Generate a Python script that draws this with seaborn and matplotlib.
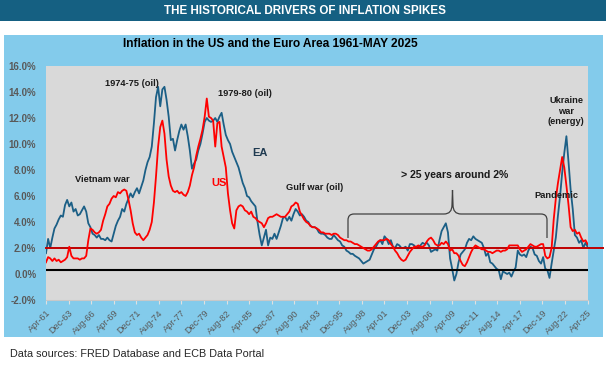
import numpy as np
import pandas as pd
import seaborn as sns
import matplotlib.pyplot as plt
from matplotlib.patches import Rectangle, PathPatch
from matplotlib.path import Path
from matplotlib.transforms import Affine2D

plt.rcParams['font.family'] = ['Liberation Sans', 'DejaVu Sans']

# quarterly readings, Apr-1961 .. Apr-2025, y/y inflation in %
us_cpi = [
    0.9, 1.3, 1.2,
    1.0, 1.2, 1.0, 1.1,   # 1962
    0.9, 1.0, 1.1, 1.3,
    2.1, 1.4, 1.2, 1.2,   # 1964
    1.2, 1.1, 1.2, 1.2,
    1.4, 2.6, 3.5, 3.4,   # 1966
    3.2, 3.1, 3.2, 3.4,
    4.1, 4.6, 5.2, 5.4,   # 1968
    5.8, 6.0, 5.9, 6.3,
    6.2, 6.4, 6.5, 6.4,   # 1970
    5.7, 4.9, 3.9, 3.2,
    3.0, 3.1, 2.8, 2.6,   # 1972
    2.8, 3.0, 3.4, 4.0,
    5.5, 7.5, 9.8, 11.3,  # 1974
    11.8, 10.8, 8.8, 7.5,
    6.8, 6.4, 6.3, 6.4,   # 1976
    6.2, 6.3, 6.1, 6.0,
    6.3, 6.8, 7.6, 8.2,   # 1978
    9.1, 9.8, 10.4, 11.1,
    12.1, 13.5, 12.1, 12.0,  # 1980
    11.8, 9.8, 11.6, 11.7,
    9.8, 9.0, 8.2, 6.2,   # 1982
    4.9, 3.9, 3.5, 4.9,
    5.2, 5.3, 5.2, 4.9,   # 1984
    4.8, 4.6, 4.8, 4.4,
    4.3, 4.1, 4.0, 3.9,   # 1986
    3.6, 3.9, 4.3, 4.4,
    4.4, 4.5, 4.6, 4.5,   # 1988
    4.4, 4.4, 4.4, 4.6,
    4.8, 5.2, 5.3, 5.5,   # 1990
    5.4, 4.8, 4.5, 4.2,
    4.0, 3.9, 3.7, 3.6,   # 1992
    3.6, 3.5, 3.4, 3.2,
    3.2, 3.1, 3.1, 3.1,   # 1994
    3.0, 3.1, 3.1, 3.0,
    2.8, 2.7, 2.6, 2.6,   # 1996
    2.5, 2.5, 2.4, 2.3,
    2.3, 2.2, 2.1, 2.0,   # 1998
    1.9, 1.8, 1.8, 1.9,
    2.1, 2.3, 2.5, 2.6,   # 2000
    2.6, 2.6, 2.7, 2.6,
    2.3, 2.1, 1.8, 1.6,   # 2002
    1.3, 1.1, 1.0, 1.1,
    1.4, 1.7, 1.9, 2.1,   # 2004
    2.1, 2.2, 2.1, 2.1,
    2.2, 2.5, 2.7, 2.8,   # 2006
    2.6, 2.3, 2.2, 2.2,
    2.4, 2.3, 2.5, 2.3,   # 2008
    1.8, 1.9, 1.6, 1.6,
    1.4, 1.0, 0.7, 0.6,   # 2010
    0.9, 1.3, 1.7, 2.0,
    2.2, 2.1, 2.0, 1.9,   # 2012
    1.9, 1.8, 1.7, 1.7,
    1.6, 1.7, 1.8, 1.8,   # 2014
    1.7, 1.8, 1.8, 1.9,
    2.2, 2.2, 2.2, 2.2,   # 2016
    2.2, 1.9, 1.7, 1.8,
    1.9, 2.1, 2.3, 2.2,   # 2018
    2.1, 2.1, 2.2, 2.3,
    2.3, 1.4, 1.2, 1.3,   # 2020
    2.0, 4.2, 5.8, 7.0,
    8.0, 9.0, 8.2, 6.8,   # 2022
    5.3, 3.6, 3.3, 3.4,
    3.1, 3.2, 2.8, 2.5,   # 2024
    2.6, 2.3,
]

ea_hicp = [
    1.6, 2.7, 2.0,
    2.8, 3.5, 3.8, 4.2,   # 1962
    4.5, 4.4, 5.3, 5.7,
    5.2, 5.5, 4.8, 5.0,   # 1964
    4.5, 4.6, 4.9, 5.2,
    4.8, 3.9, 3.6, 3.1,   # 1966
    3.0, 2.8, 3.0, 2.7,
    2.7, 2.6, 2.8, 2.6,   # 1968
    2.5, 3.1, 3.7, 4.1,
    4.4, 5.0, 4.8, 5.4,   # 1970
    5.8, 6.2, 5.9, 6.3,
    6.6, 6.2, 6.7, 7.2,   # 1972
    8.0, 8.6, 9.0, 9.8,
    11.6, 13.6, 14.4, 12.9,  # 1974
    14.2, 14.4, 13.4, 12.1,
    10.3, 10.4, 9.5, 10.3,   # 1976
    11.0, 11.5, 11.1, 11.5,
    10.6, 9.5, 8.1, 8.5,  # 1978
    8.8, 9.5, 10.0, 10.8,
    11.7, 12.0, 11.8, 11.7,  # 1980
    11.8, 12.0, 11.7, 12.1,
    12.4, 11.5, 10.7, 10.3,  # 1982
    10.0, 9.4, 9.0, 8.6,
    8.2, 7.6, 7.0, 6.6,   # 1984
    6.0, 5.9, 5.6, 5.4,
    5.2, 4.0, 3.0, 2.2,   # 1986
    2.8, 3.4, 2.2, 2.8,
    2.7, 3.1, 2.7, 3.2,   # 1988
    3.7, 4.3, 4.4, 4.1,
    4.4, 4.1, 4.6, 5.0,   # 1990
    4.8, 4.5, 4.6, 4.4,
    4.1, 4.0, 3.7, 3.6,   # 1992
    3.6, 3.5, 3.2, 3.1,
    3.1, 3.0, 2.8, 2.7,   # 1994
    2.7, 3.0, 2.8, 2.6,
    2.5, 2.2, 2.1, 1.8,   # 1996
    1.7, 1.55, 1.55, 1.4,
    1.3, 1.2, 1.0, 0.8,   # 1998
    0.9, 1.0, 1.1, 1.5,
    1.9, 2.1, 2.4, 2.6,   # 2000
    2.3, 2.9, 2.7, 2.3,
    2.6, 2.1, 2.0, 2.3,   # 2002
    2.2, 2.0, 2.0, 2.1,
    1.8, 2.3, 2.3, 2.2,   # 2004
    2.0, 2.1, 2.2, 2.4,
    2.3, 2.4, 2.2, 1.7,   # 2006
    1.8, 1.9, 1.8, 2.6,
    3.3, 3.6, 3.9, 3.2,   # 2008
    1.2, 0.4, -0.5, 0.0,
    0.9, 1.5, 1.7, 1.9,   # 2010
    2.4, 2.7, 2.6, 2.9,
    2.7, 2.6, 2.5, 2.4,   # 2012
    2.0, 1.4, 1.6, 0.9,
    0.8, 0.6, 0.4, 0.3,   # 2014
    -0.4, 0.2, 0.1, 0.0,
    0.1, -0.2, 0.2, 0.5,  # 2016
    1.8, 1.5, 1.4, 1.5,
    1.3, 1.8, 2.1, 2.0,   # 2018
    1.5, 1.4, 1.0, 0.8,
    1.3, 0.4, 0.3, -0.3,  # 2020
    0.8, 1.8, 2.8, 4.5,
    6.0, 7.8, 9.3, 10.6,  # 2022
    8.6, 6.5, 5.0, 3.0,
    2.8, 2.4, 2.6, 2.0,   # 2024
    2.4, 2.1,
]

dates = pd.date_range('1961-04-01', periods=len(us_cpi), freq='3MS')
tick_dates = pd.date_range('1961-04-01', '2025-04-01', freq='32MS')
tick_labels = [d.strftime('%b-%y') for d in tick_dates]
y_ticks = list(range(-2, 17, 2))

df = pd.DataFrame({'date': dates, 'US': us_cpi, 'EA': ea_hicp})
df = df.melt('date', var_name='series', value_name='rate')

fig = plt.figure(figsize=(6.06, 3.69), dpi=100)
# pixel coordinates (y pointing down) for the decorations
px = Affine2D().scale(1 / 606, -1 / 369).translate(0, 1) + fig.transFigure

fig.add_artist(Rectangle((0, 0), 606, 21, transform=px, fc='#156082', ec='none', zorder=-2))
fig.add_artist(Rectangle((4, 35), 599, 302, transform=px, fc='#83cbeb', ec='none', zorder=-2))

ax = fig.add_axes([46 / 606, 69 / 369, 542 / 606, 234 / 369])
ax.set_facecolor('#d9d9d9')

sns.lineplot(data=df, x='date', y='rate', hue='series', hue_order=['EA', 'US'],
             palette={'EA': '#1b5f86', 'US': '#ff0000'}, lw=1.3, legend=False, ax=ax)
ax.lines[1].set_zorder(3)

ax.axhline(2, xmax=557 / 542, color='#c00000', lw=1.4, clip_on=False, zorder=2.5)
ax.axhline(0.3, color='black', lw=1.5, zorder=2.5)

ax.set_xlim(dates[0], pd.Timestamp('2025-04-20'))
ax.set_ylim(-2, 16)
ax.set_yticks(y_ticks)
ax.set_yticklabels([f'{v:.1f}%' for v in y_ticks], fontsize=7, fontweight='bold', color='#595959')
ax.set_xticks(tick_dates)
ax.set_xticklabels(tick_labels, rotation=45, ha='right', rotation_mode='anchor',
                   fontsize=6.6, color='#595959')
ax.tick_params(axis='y', length=0, pad=7)
ax.tick_params(axis='x', length=3, width=0.8, color='#e0e0e0', pad=3)
ax.set_xlabel('')
ax.set_ylabel('')
for side in ['top', 'right', 'left']:
    ax.spines[side].set_visible(False)
ax.spines['bottom'].set_color('#c8c8c8')
ax.spines['bottom'].set_linewidth(0.8)

# titles
fig.text(305, 10.5, 'THE HISTORICAL DRIVERS OF INFLATION SPIKES', transform=px,
         ha='center', va='center', color='white', fontweight='bold', fontsize=8.4)
fig.text(270, 44, 'Inflation in the US and the Euro Area 1961-MAY 2025', transform=px,
         ha='center', va='center', color='black', fontweight='bold', fontsize=8.6)
fig.text(10, 354, 'Data sources: FRED Database and ECB Data Portal', transform=px,
         ha='left', va='center', color='#262626', fontsize=7.8)

# event notes
def note(x, y, s, size=6.7, color='#1a1a1a'):
    fig.text(x, y, s, transform=px, ha='center', va='center', fontweight='bold',
             fontsize=size, color=color, linespacing=1.25)

note(102, 179, 'Vietnam war')
note(132, 83, '1974-75 (oil)')
note(245, 94, '1979-80 (oil)')
note(260, 153, 'EA', size=8, color='#1f3a50')
note(219, 183, 'US', size=8, color='#ff0000')
note(315, 187, 'Gulf war (oil)')
note(455, 175, '> 25 years around 2%', size=7.6)
note(556, 196, 'Pandemic')
note(566, 111, 'Ukraine\nwar\n(energy)')

# curly brace over the low-inflation decades
verts = [(348, 238), (348, 220), (348, 214), (354, 214),
         (444, 214), (452, 214), (452, 205), (452.5, 190),
         (453, 205), (453, 214), (461, 214),
         (541, 214), (547, 214), (547, 220), (547, 238)]
codes = [Path.MOVETO, Path.LINETO, Path.CURVE3, Path.CURVE3,
         Path.LINETO, Path.CURVE3, Path.CURVE3, Path.LINETO,
         Path.LINETO, Path.CURVE3, Path.CURVE3,
         Path.LINETO, Path.CURVE3, Path.CURVE3, Path.LINETO]
fig.add_artist(PathPatch(Path(verts, codes), transform=px, fc='none', ec='#404040', lw=0.9))

fig.savefig('out.png', dpi=100)
